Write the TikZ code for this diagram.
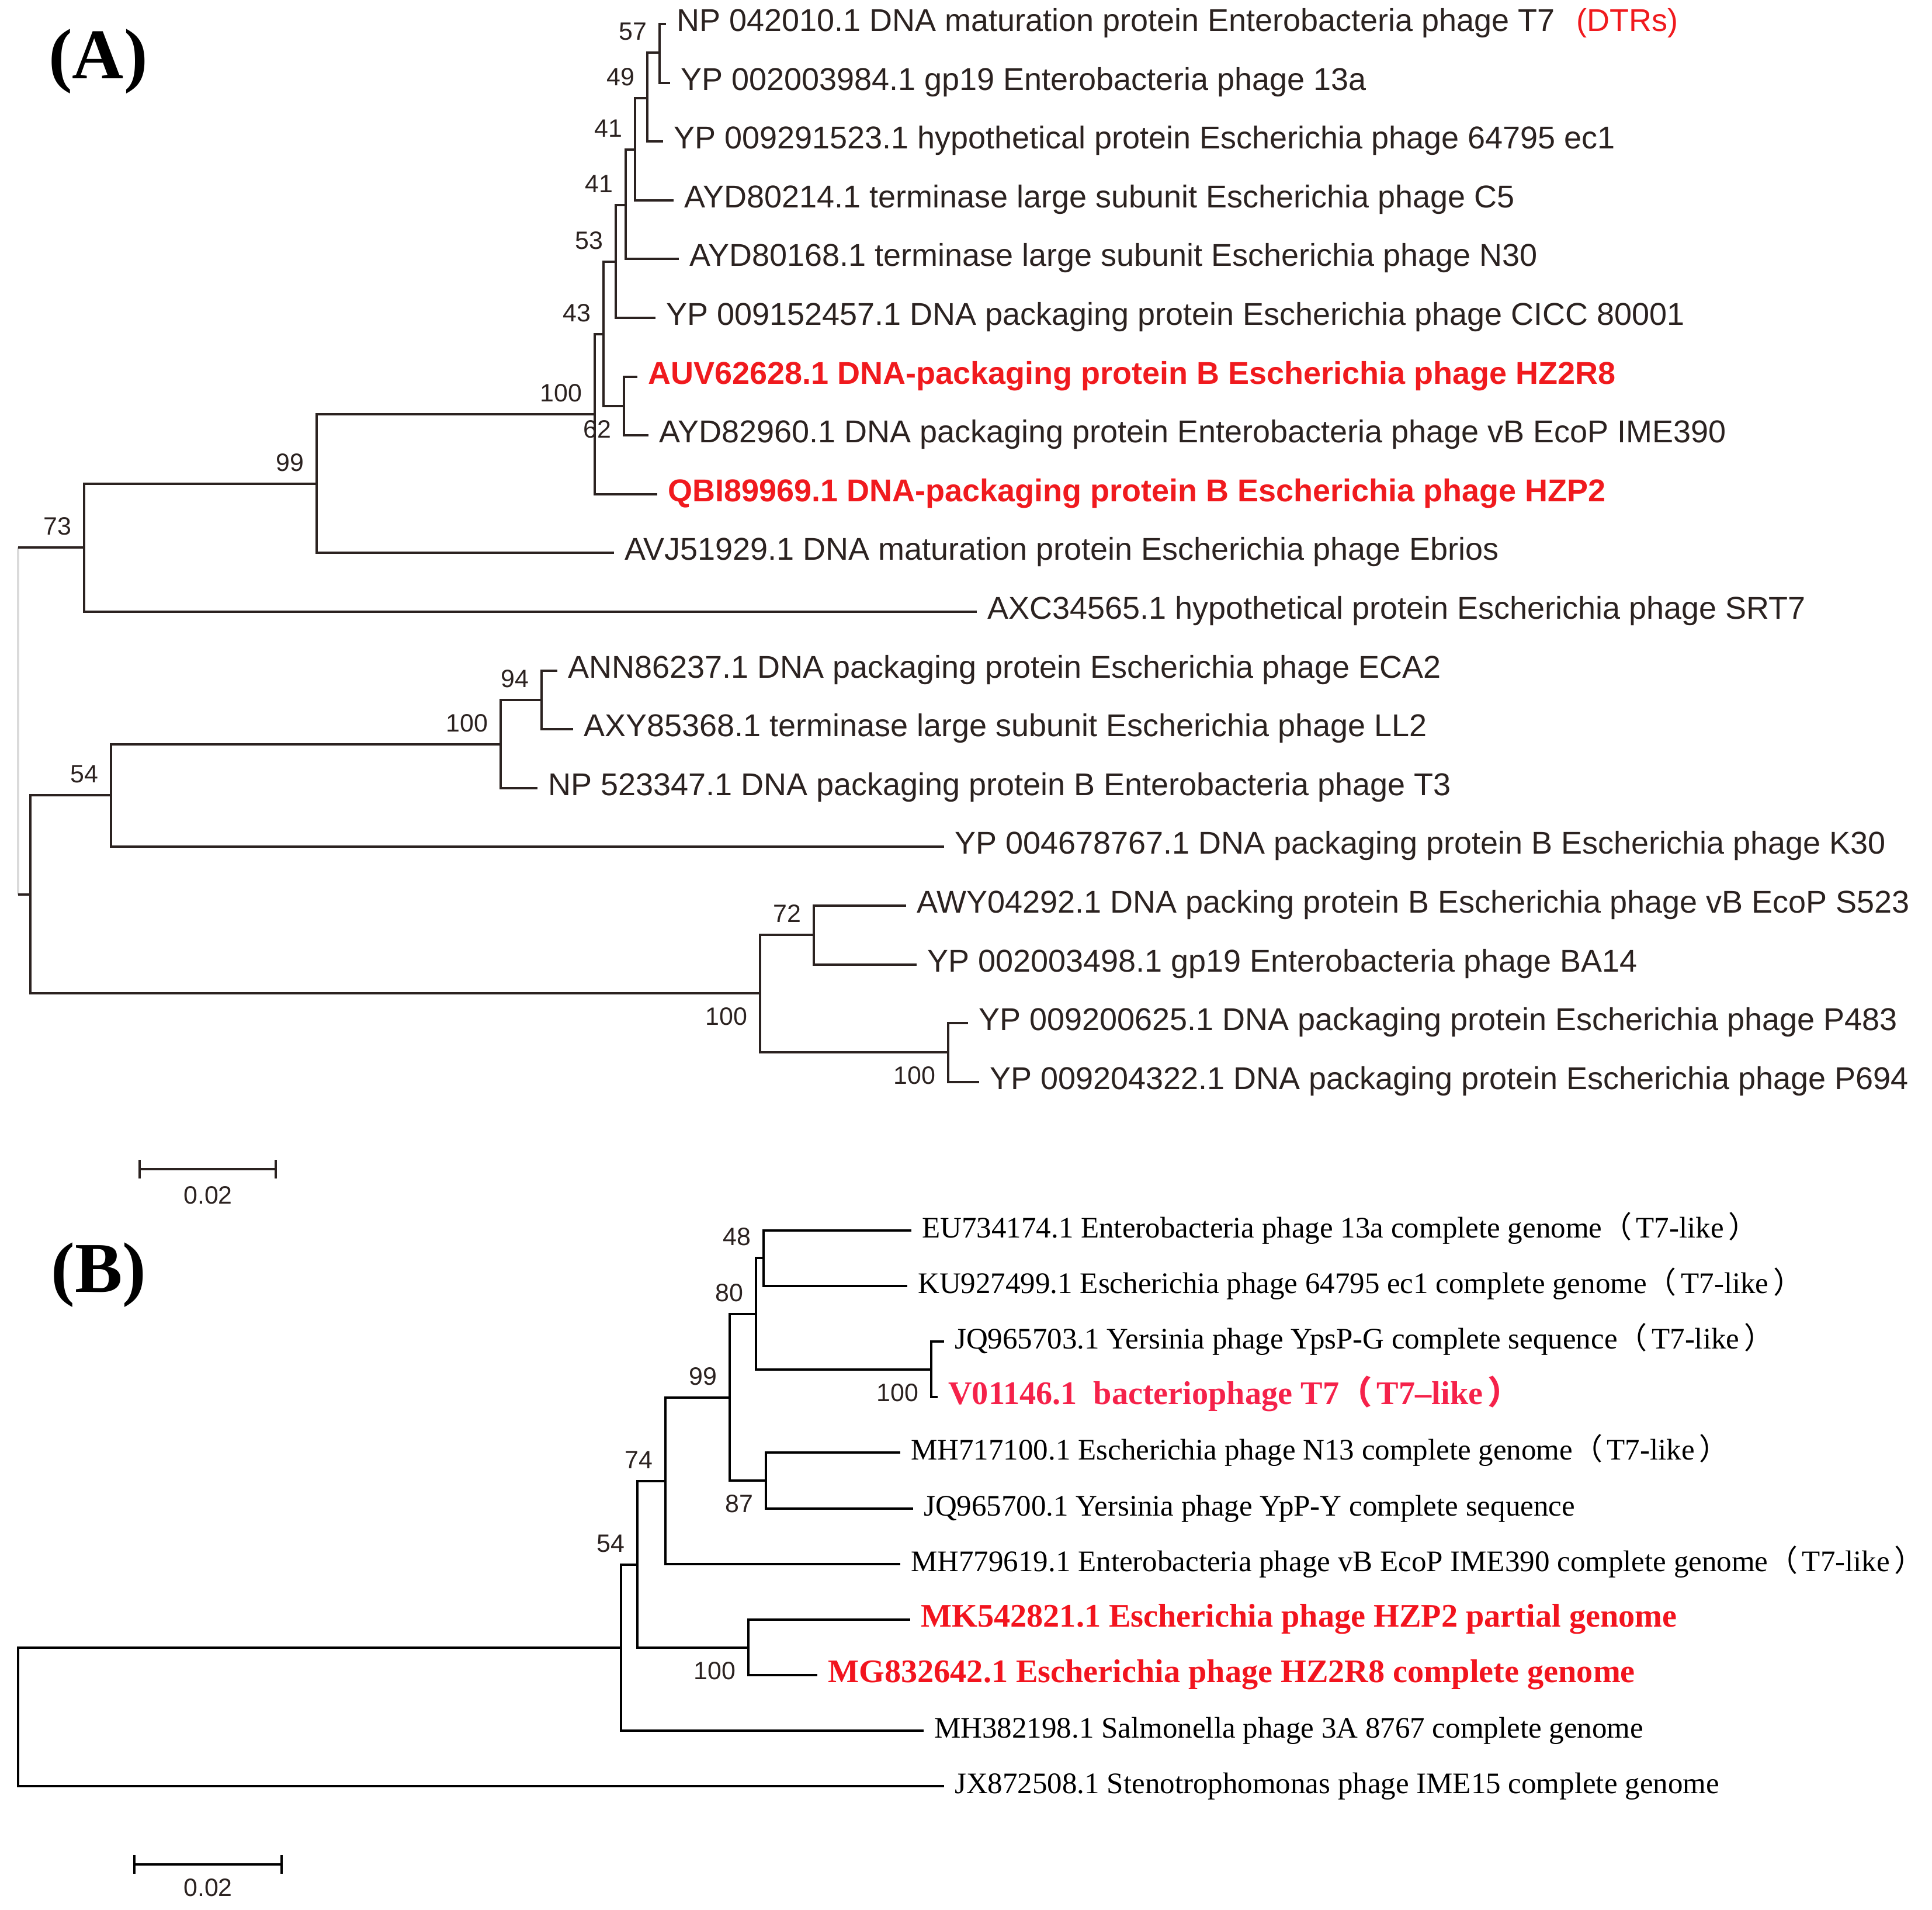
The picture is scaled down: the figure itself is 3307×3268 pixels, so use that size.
\documentclass[tikz,border=0pt]{standalone}
\usepackage{fontspec}
\setmainfont{Liberation Serif}
\newfontfamily\arial{Liberation Sans}
\newfontfamily\cjk{Noto Sans CJK SC}
\usetikzlibrary{arrows.meta, positioning}
\definecolor{inkA}{HTML}{2B2220}
\definecolor{redA}{HTML}{F01A1E}
\definecolor{redB}{HTML}{F5224A}
\definecolor{redC}{HTML}{F2141E}
\definecolor{faint}{HTML}{DADADA}
\newcommand{\tsev}{{\cjk （}\hspace{0.15em}T7-like\hspace{0.15em}{\cjk ）}}
\tikzset{
	branchA/.style={line width=1.1pt, draw=inkA},
	branchB/.style={line width=1pt, draw=black},
	leafA/.style={anchor=west, inner xsep=5pt, text=inkA, font=\arial\fontsize{15.35}{18}\selectfont, text height=0.72em, text depth=0pt},
	leafAr/.style={leafA, text=redA, font=\arial\bfseries\fontsize{15.35}{18}\selectfont},
	leafB/.style={anchor=west, inner xsep=5pt, font=\fontsize{14.5}{17}\selectfont, text height=0.68em, text depth=0pt},
	leafBr/.style={leafB, text=redC, font=\bfseries\fontsize{16}{19}\selectfont},
	boot/.style={inner sep=6pt, text=inkA, font=\arial\fontsize{12.2}{14}\selectfont, text height=0.72em, text depth=0pt},
	bootlow/.style={boot, below left, yshift=-2pt},
	panel/.style={font=\bfseries\fontsize{34.7}{40}\selectfont}
}

\begin{document}
\begin{tikzpicture}[x=0.01cm, y=-0.01cm]
	\useasboundingbox (0,0) rectangle (3307,3268);
	
	\node[panel] (pA) at (168,105) {(A)};
	\node[panel] (pB) at (169,2182) {(B)};
	
	% tree (A)
	\coordinate (n57) at (1129,90);
	\coordinate (n49) at (1108,168);
	\coordinate (n41a) at (1087,256);
	\coordinate (n41b) at (1071,351);
	\coordinate (n53) at (1054,448);
	\coordinate (n62) at (1068,695);
	\coordinate (n43) at (1033,572);
	\coordinate (n100a) at (1018,709);
	\coordinate (n99) at (542,828);
	\coordinate (n73) at (144,937);
	\coordinate (n94) at (927,1198);
	\coordinate (n100b) at (857,1274);
	\coordinate (n54) at (190,1361);
	\coordinate (n72) at (1393,1600);
	\coordinate (n100d) at (1623,1801);
	\coordinate (n100c) at (1301,1700);
	\coordinate (nlow) at (52,1531);
	\coordinate (rootA) at (31,1234);
	
	\node[leafA] (a0) at (1140,41) {NP 042010.1 DNA maturation protein Enterobacteria phage T7};
	\node[leafA, text=redA, right=0pt of a0] (dtr) {(DTRs)};
	\node[leafA] (a1) at (1147,142) {YP 002003984.1 gp19 Enterobacteria phage 13a};
	\node[leafA] (a2) at (1135,242) {YP 009291523.1 hypothetical protein Escherichia phage 64795 ec1};
	\node[leafA] (a3) at (1153,343) {AYD80214.1 terminase large subunit Escherichia phage C5};
	\node[leafA] (a4) at (1162,443) {AYD80168.1 terminase large subunit Escherichia phage N30};
	\node[leafA] (a5) at (1122,544) {YP 009152457.1 DNA packaging protein Escherichia phage CICC 80001};
	\node[leafAr] (a6) at (1091,645) {AUV62628.1 DNA-packaging protein B Escherichia phage HZ2R8};
	\node[leafA] (a7) at (1110,745) {AYD82960.1 DNA packaging protein Enterobacteria phage vB EcoP IME390};
	\node[leafAr] (a8) at (1125,846) {QBI89969.1 DNA-packaging protein B Escherichia phage HZP2};
	\node[leafA] (a9) at (1051,946) {AVJ51929.1 DNA maturation protein Escherichia phage Ebrios};
	\node[leafA] (a10) at (1672,1047) {AXC34565.1 hypothetical protein Escherichia phage SRT7};
	\node[leafA] (a11) at (954,1148) {ANN86237.1 DNA packaging protein Escherichia phage ECA2};
	\node[leafA] (a12) at (981,1248) {AXY85368.1 terminase large subunit Escherichia phage LL2};
	\node[leafA] (a13) at (920,1349) {NP 523347.1 DNA packaging protein B Enterobacteria phage T3};
	\node[leafA] (a14) at (1616,1449) {YP 004678767.1 DNA packaging protein B Escherichia phage K30};
	\node[leafA] (a15) at (1551,1550) {AWY04292.1 DNA packing protein B Escherichia phage vB EcoP S523};
	\node[leafA] (a16) at (1569,1651) {YP 002003498.1 gp19 Enterobacteria phage BA14};
	\node[leafA] (a17) at (1657,1751) {YP 009200625.1 DNA packaging protein Escherichia phage P483};
	\node[leafA] (a18) at (1676,1852) {YP 009204322.1 DNA packaging protein Escherichia phage P694};
	
	\foreach \p/\c in {n57/a0, n57/a1, n49/n57, n49/a2, n41a/n49, n41a/a3, n41b/n41a, n41b/a4,
		n53/n41b, n53/a5, n62/a6, n62/a7, n43/n53, n43/n62, n100a/n43, n100a/a8, n99/n100a, n99/a9,
		n73/n99, n73/a10, n94/a11, n94/a12, n100b/n94, n100b/a13, n54/n100b, n54/a14,
		n72/a15, n72/a16, n100d/a17, n100d/a18, n100c/n72, n100c/n100d, nlow/n54, nlow/n100c}
		\draw[branchA] (\p) |- (\c);
	\draw[line width=1pt, faint] (rootA |- n73) -- (rootA |- nlow);
	\draw[branchA] (rootA |- n73) -- (n73);
	\draw[branchA] (rootA |- nlow) -- (nlow);
	
	\foreach \n/\v in {n57/57, n49/49, n41a/41, n41b/41, n53/53, n43/43, n100a/100, n99/99, n73/73,
		n94/94, n100b/100, n54/54, n72/72}
		\node[boot, above left] (s\n) at (\n) {\v};
	\foreach \n/\v in {n62/62, n100c/100, n100d/100}
		\node[bootlow] (s\n) at (\n) {\v};
	
	\coordinate (barA1) at (237,2001);
	\coordinate (barA2) at (474,2001);
	\draw[branchA, {Bar[width=9pt]}-{Bar[width=9pt]}] (barA1) -- (barA2);
	\node[boot] (scaleA) at (356,2048) {0.02};
	
	% tree (B)
	\coordinate (m48) at (1307,2153);
	\coordinate (m100a) at (1594,2344);
	\coordinate (m80) at (1294,2249);
	\coordinate (m87) at (1311,2534);
	\coordinate (m99) at (1249,2392);
	\coordinate (m74) at (1139,2535);
	\coordinate (m100b) at (1281,2820);
	\coordinate (m54) at (1091,2678);
	\coordinate (m0) at (1063,2820);
	\coordinate (rootB) at (31,2939);
	
	\node[leafB] (b0) at (1560,2106) {EU734174.1 Enterobacteria phage 13a complete genome\tsev};
	\node[leafB] (b1) at (1553,2201) {KU927499.1 Escherichia phage 64795 ec1 complete genome\tsev};
	\node[leafB] (b2) at (1616,2296) {JQ965703.1 Yersinia phage YpsP-G complete sequence\tsev};
	\node[leafBr, text=redB] (b3) at (1605,2391) {V01146.1\ \ bacteriophage T7{\cjk （}\hspace{0.15em}T7–like\hspace{0.15em}{\cjk ）}};
	\node[leafB] (b4) at (1541,2486) {MH717100.1 Escherichia phage N13 complete genome\tsev};
	\node[leafB] (b5) at (1563,2582) {JQ965700.1 Yersinia phage YpP-Y complete sequence};
	\node[leafB] (b6) at (1541,2677) {MH779619.1 Enterobacteria phage vB EcoP IME390 complete genome\tsev};
	\node[leafBr] (b7) at (1558,2772) {MK542821.1 Escherichia phage HZP2 partial genome};
	\node[leafBr] (b8) at (1399,2867) {MG832642.1 Escherichia phage HZ2R8 complete genome};
	\node[leafB] (b9) at (1581,2962) {MH382198.1 Salmonella phage 3A 8767 complete genome};
	\node[leafB] (b10) at (1616,3057) {JX872508.1 Stenotrophomonas phage IME15 complete genome};
	
	\foreach \p/\c in {m48/b0, m48/b1, m100a/b2, m100a/b3, m80/m48, m80/m100a, m87/b4, m87/b5,
		m99/m80, m99/m87, m74/m99, m74/b6, m100b/b7, m100b/b8, m54/m74, m54/m100b,
		m0/m54, m0/b9, rootB/m0, rootB/b10}
		\draw[branchB] (\p) |- (\c);
	
	\foreach \n/\v in {m48/48, m80/80, m99/99, m74/74, m54/54}
		\node[boot, above left] (s\n) at (\n) {\v};
	\foreach \n/\v in {m100a/100, m87/87, m100b/100}
		\node[bootlow] (s\n) at (\n) {\v};
	
	\coordinate (barB1) at (228,3191);
	\coordinate (barB2) at (484,3191);
	\draw[branchB, {Bar[width=9pt]}-{Bar[width=9pt]}] (barB1) -- (barB2);
	\node[boot] (scaleB) at (356,3233) {0.02};
\end{tikzpicture}
\end{document}
